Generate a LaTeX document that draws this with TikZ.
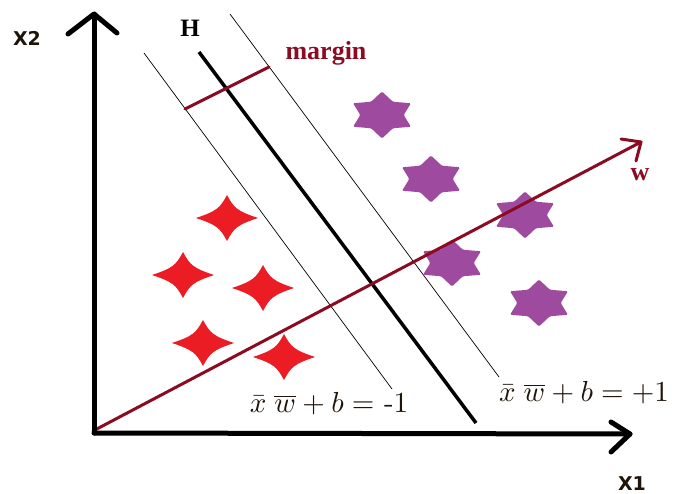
\documentclass[tikz,border=0pt]{standalone}
\usepackage{fontspec}
\usepackage{graphicx}
\newfontfamily\axisfont{DejaVu Sans}
\newfontfamily\serifbold{Liberation Serif}
\definecolor{darkred}{HTML}{8B0B22}
\definecolor{starred}{HTML}{EC1C24}
\definecolor{starpurple}{HTML}{9E4A9E}
\definecolor{txtdark}{HTML}{1E140A}
\tikzset{
  axisline/.style={line width=5pt, line cap=round, line join=round, black},
  hyperplane/.style={line width=3.5pt, black},
  marginline/.style={line width=0.7pt, black},
  redline/.style={line width=3pt, darkred, line cap=round, line join=round},
  axislabel/.style={font=\axisfont\bfseries\fontsize{19}{22}\selectfont, text=txtdark},
  redlabel/.style={font=\serifbold\bfseries\fontsize{26}{30}\selectfont, text=darkred},
  eqlabel/.style={text=txtdark, inner sep=1pt},
  redstar/.pic={\fill[starred] (31,0) .. controls (10,7) and (7,10) .. (0,23) .. controls (-7,10) and (-10,7) .. (-31,0) .. controls (-10,-7) and (-7,-10) .. (0,-23) .. controls (7,-10) and (10,-7) .. (31,0) -- cycle;},
  purplestar/.pic={\fill[starpurple, xscale=1.42, rounded corners=1.2pt] (90:23.5) -- (120:15.3) -- (150:23.5) -- (180:15.3) -- (210:23.5) -- (240:15.3) -- (270:23.5) -- (300:15.3) -- (330:23.5) -- (0:15.3) -- (30:23.5) -- (60:15.3) -- cycle;}
}
\begin{document}
\begin{tikzpicture}[x=1pt,y=-1pt]
\path[use as bounding box, fill=white] (0,0) rectangle (675,494);
% coordinates
\coordinate (O) at (94,433);
\coordinate (Ytip) at (94,14);
\coordinate (Ya) at (68,34);
\coordinate (Yb) at (117,33);
\coordinate (Xtip) at (630,434);
\coordinate (Xa) at (611,422);
\coordinate (Xb) at (611,452);
\coordinate (Htop) at (199,52);
\coordinate (Hbot) at (476,423);
\coordinate (Ltop) at (144,53);
\coordinate (Lbot) at (392,389);
\coordinate (Rtop) at (230,14);
\coordinate (Rbot) at (499,377);
\coordinate (M1) at (185,109);
\coordinate (M2) at (269,67);
\coordinate (Wstart) at (93,431);
\coordinate (Wtip) at (641,142);
\coordinate (Wa) at (621,139);
\coordinate (Wb) at (636,161);
% stars
\pic at (227,218) {redstar};
\pic at (183,275) {redstar};
\pic at (263,288) {redstar};
\pic at (203,343) {redstar};
\pic at (284,357) {redstar};
\pic at (382,115) {purplestar};
\pic at (431,179) {purplestar};
\pic at (525,215) {purplestar};
\pic at (452,263) {purplestar};
\pic at (539,303) {purplestar};
% margins and hyperplane
\draw[marginline] (Ltop) -- (Lbot);
\draw[marginline] (Rtop) -- (Rbot);
\draw[hyperplane] (Htop) -- (Hbot);
\draw[redline] (M1) -- (M2);
% w vector
\draw[redline] (Wstart) -- (Wtip);
\draw[redline] (Wa) -- (Wtip) -- (Wb);
% axes
\draw[axisline] (O) -- (Ytip);
\draw[axisline] (Ya) -- (Ytip) -- (Yb);
\draw[axisline] (O) -- (Xtip);
\draw[axisline] (Xa) -- (Xtip) -- (Xb);
% labels
\node[axislabel] (x2) at (27,38) {X2};
\node[axislabel] (x1) at (632,484) {X1};
\node[font=\serifbold\bfseries\fontsize{25}{30}\selectfont, text=black] (h) at (190,28) {H};
\node[redlabel] (margin) at (326,53) {margin};
\node[redlabel] (w) at (640,175) {w};
\node[eqlabel] (eqm) at (329,404) {\scalebox{2.9}{$\bar{x}\;\overline{w}+b=$ \mbox{-}1}};
\node[eqlabel] (eqp) at (584,393) {\scalebox{2.9}{$\bar{x}\;\overline{w}+b=+1$}};
\end{tikzpicture}
\end{document}
